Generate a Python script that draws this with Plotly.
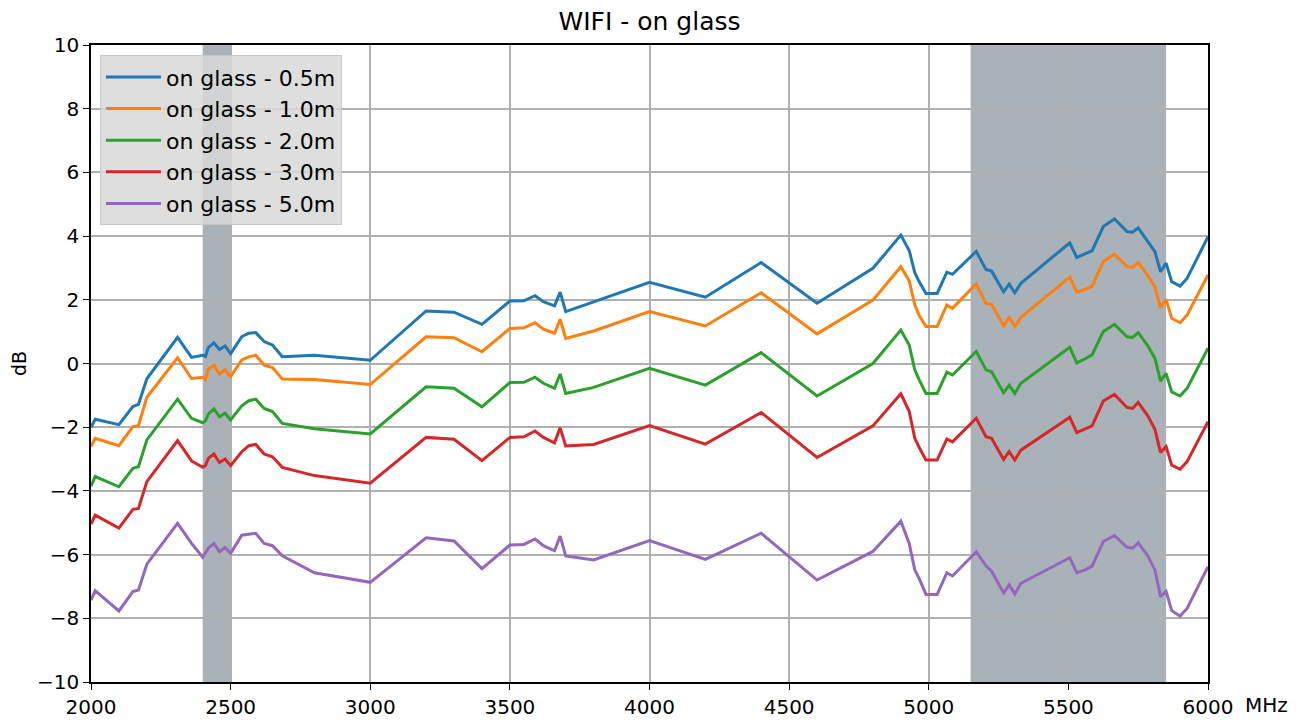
import plotly.graph_objects as go

# frequency grid (MHz) shared by all series
freq = [
    2000, 2015, 2100, 2150, 2170, 2200, 2310, 2360, 2400, 2410, 2420, 2440,
    2460, 2480, 2500, 2540, 2565, 2590, 2620, 2650, 2685, 2800, 3000, 3200,
    3300, 3400, 3500, 3550, 3590, 3620, 3660, 3680, 3700, 3800, 4000, 4200,
    4400, 4600, 4800, 4900, 4930, 4950, 4965, 4990, 5030, 5065, 5085, 5170,
    5205, 5225, 5268, 5288, 5308, 5330, 5505, 5530, 5560, 5585, 5625, 5665,
    5710, 5730, 5750, 5785, 5810, 5830, 5850, 5870, 5900, 5925, 6000,
]

glass_05m = [
    -2.00, -1.75, -1.92, -1.35, -1.28, -0.48, 0.82, 0.19, 0.26, 0.22, 0.50, 0.65,
    0.44, 0.55, 0.31, 0.84, 0.95, 0.97, 0.69, 0.58, 0.21, 0.26, 0.10, 1.65,
    1.61, 1.23, 1.96, 1.97, 2.13, 1.94, 1.81, 2.24, 1.63, 1.93, 2.55, 2.08,
    3.17, 1.89, 2.99, 4.03, 3.55, 2.85, 2.58, 2.20, 2.20, 2.87, 2.80, 3.52,
    2.95, 2.90, 2.25, 2.49, 2.22, 2.52, 3.79, 3.33, 3.44, 3.54, 4.30, 4.54,
    4.14, 4.12, 4.26, 3.82, 3.51, 2.88, 3.15, 2.57, 2.43, 2.67, 3.98,
]
glass_10m = [
    -2.61, -2.35, -2.58, -1.98, -1.95, -1.06, 0.18, -0.47, -0.43, -0.50, -0.18, -0.05,
    -0.33, -0.20, -0.41, 0.11, 0.21, 0.26, -0.05, -0.13, -0.49, -0.50, -0.66, 0.84,
    0.81, 0.37, 1.10, 1.12, 1.28, 1.08, 0.95, 1.39, 0.79, 1.02, 1.63, 1.18,
    2.22, 0.93, 1.99, 3.04, 2.60, 1.84, 1.52, 1.16, 1.16, 1.84, 1.73, 2.50,
    1.89, 1.86, 1.18, 1.45, 1.16, 1.45, 2.71, 2.24, 2.33, 2.43, 3.20, 3.43,
    3.04, 3.02, 3.17, 2.75, 2.41, 1.75, 2.01, 1.42, 1.28, 1.52, 2.78,
]
glass_20m = [
    -3.85, -3.55, -3.87, -3.29, -3.24, -2.40, -1.12, -1.72, -1.86, -1.80, -1.59, -1.43,
    -1.67, -1.56, -1.77, -1.33, -1.17, -1.12, -1.41, -1.51, -1.88, -2.05, -2.21, -0.73,
    -0.78, -1.36, -0.60, -0.59, -0.43, -0.62, -0.78, -0.33, -0.94, -0.75, -0.15, -0.68,
    0.34, -1.02, 0.00, 1.05, 0.58, -0.20, -0.50, -0.94, -0.94, -0.27, -0.36, 0.38,
    -0.20, -0.26, -0.92, -0.68, -0.94, -0.62, 0.51, 0.02, 0.15, 0.27, 1.00, 1.23,
    0.84, 0.82, 0.97, 0.55, 0.16, -0.55, -0.31, -0.89, -1.02, -0.78, 0.48,
]
glass_30m = [
    -5.04, -4.76, -5.17, -4.58, -4.55, -3.71, -2.42, -3.06, -3.26, -3.20, -2.98, -2.84,
    -3.11, -3.00, -3.21, -2.77, -2.58, -2.54, -2.84, -2.93, -3.26, -3.52, -3.76, -2.32,
    -2.38, -3.05, -2.32, -2.30, -2.12, -2.32, -2.49, -2.02, -2.59, -2.54, -1.95, -2.53,
    -1.54, -2.95, -1.96, -0.95, -1.50, -2.35, -2.62, -3.03, -3.03, -2.37, -2.46, -1.72,
    -2.30, -2.35, -3.01, -2.77, -3.03, -2.72, -1.69, -2.17, -2.05, -1.96, -1.18, -0.97,
    -1.38, -1.41, -1.22, -1.65, -2.07, -2.79, -2.61, -3.19, -3.32, -3.08, -1.83,
]
glass_50m = [
    -7.43, -7.13, -7.77, -7.16, -7.11, -6.30, -5.02, -5.65, -6.08, -5.95, -5.80, -5.65,
    -5.91, -5.78, -5.96, -5.39, -5.35, -5.33, -5.65, -5.72, -6.04, -6.57, -6.87, -5.47,
    -5.57, -6.44, -5.70, -5.68, -5.51, -5.72, -5.88, -5.42, -6.04, -6.17, -5.56, -6.15,
    -5.33, -6.80, -5.90, -4.95, -5.65, -6.48, -6.74, -7.25, -7.25, -6.57, -6.67, -5.91,
    -6.35, -6.52, -7.20, -6.95, -7.24, -6.90, -6.10, -6.57, -6.48, -6.36, -5.59, -5.40,
    -5.77, -5.80, -5.63, -6.05, -6.48, -7.32, -7.16, -7.76, -7.93, -7.69, -6.38,
]

series_names = [
    "on glass - 0.5m", "on glass - 1.0m", "on glass - 2.0m",
    "on glass - 3.0m", "on glass - 5.0m",
]
series_values = [glass_05m, glass_10m, glass_20m, glass_30m, glass_50m]
colors = ["#1f77b4", "#ff7f0e", "#2ca02c", "#d62728", "#9467bd"]

# WiFi bands (MHz)
bands = [(2400, 2500), (5150, 5850)]

fig = go.Figure()

for name, vals, col in zip(series_names, series_values, colors):
    fig.add_trace(
        go.Scatter(
            x=freq,
            y=vals,
            mode="lines",
            name=name,
            line=dict(color=col, width=3),
        )
    )

for x0, x1 in bands:
    fig.add_vrect(
        x0=x0, x1=x1,
        fillcolor="#a9b2b8",
        opacity=1,
        line_width=0,
        layer="below",
    )

axis_style = dict(
    showgrid=True,
    gridcolor="#b0b0b0",
    gridwidth=2,
    showline=True,
    linecolor="black",
    linewidth=1.5,
    mirror=True,
    ticks="outside",
    ticklen=6,
    tickcolor="black",
    zeroline=False,
    automargin=False,
    tickfont=dict(size=20),
)

fig.update_xaxes(
    range=[2000, 6000],
    tickvals=[2000, 2500, 3000, 3500, 4000, 4500, 5000, 5500, 6000],
    **axis_style,
)
fig.update_yaxes(
    range=[-10, 10],
    dtick=2,
    title=dict(text="dB", standoff=12, font=dict(size=19)),
    **axis_style,
)

fig.add_annotation(
    text="MHz",
    xref="paper", yref="paper",
    x=1.031, y=-0.036,
    xanchor="left", yanchor="middle",
    showarrow=False,
    font=dict(size=20, color="black"),
)

# the page body adds an 8px offset, so margins are trimmed to compensate
fig.update_layout(
    width=1305,
    height=720,
    margin=dict(l=83, r=105, t=37, b=46),
    plot_bgcolor="white",
    paper_bgcolor="white",
    font=dict(family="DejaVu Sans", size=18, color="black"),
    title=dict(
        text="WIFI - on glass",
        x=(91 + 1208) / 2 / 1305 - 8 / 1305,
        xanchor="center",
        y=0.981,
        yanchor="middle",
        font=dict(size=25),
    ),
    legend=dict(
        x=0.008, y=0.984,
        xanchor="left", yanchor="top",
        bgcolor="rgba(216,216,216,0.85)",
        bordercolor="#c8c8c8",
        borderwidth=1,
        itemwidth=55,
        font=dict(size=22),
    ),
)

fig.write_html("out.html")
